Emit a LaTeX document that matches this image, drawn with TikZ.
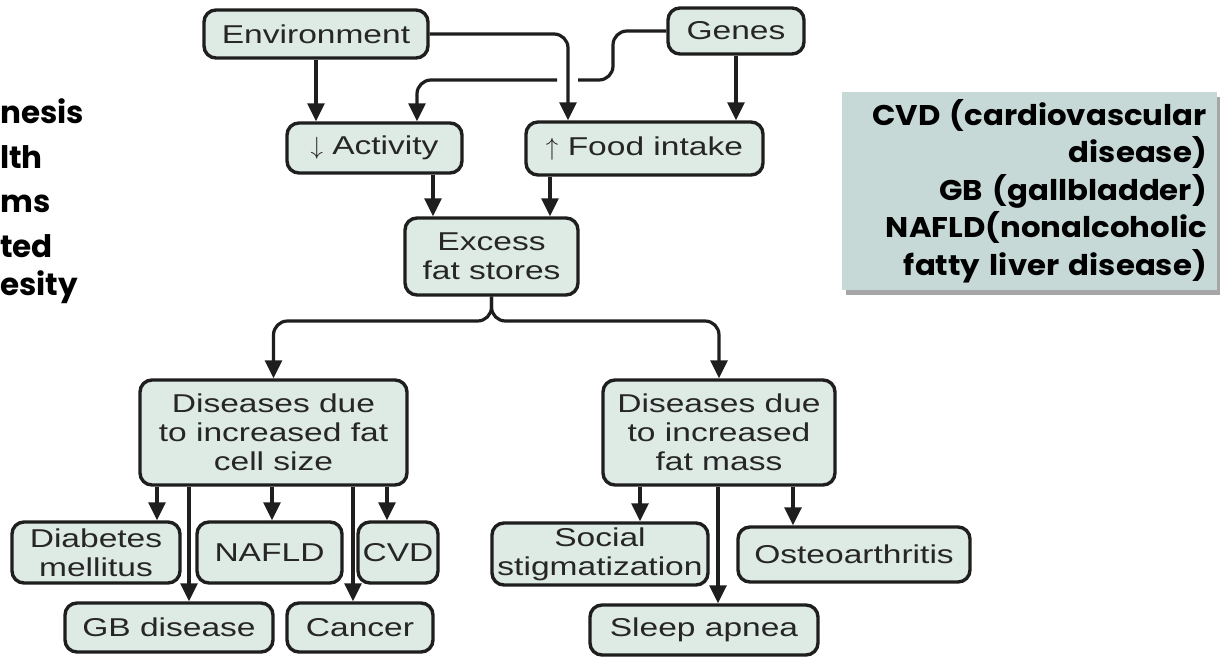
\documentclass[tikz,border=0pt]{standalone}
\usepackage{fontspec}
\setmainfont{Liberation Sans}[FakeStretch=1.3]
\newfontfamily\gothic{Poppins}[FakeStretch=1.08]
\newfontfamily\gothicside{Poppins}
\usetikzlibrary{arrows.meta}
\definecolor{boxfill}{HTML}{DEEAE4}
\definecolor{legfill}{HTML}{C6D9D6}
\definecolor{ink}{HTML}{1E1E1E}
\begin{document}
\begin{tikzpicture}[x=1pt,y=-1pt,
  box/.style={draw=ink, line width=3.4pt, rounded corners=12pt, fill=boxfill,
    text=black!85, align=center, inner sep=0pt,
    font=\fontsize{25.8}{29}\selectfont},
  arr/.style={line width=3.2pt, draw=ink, -{Triangle[width=17pt,length=18pt]}},
  ln/.style={line width=3.2pt, draw=ink},
  side/.style={font=\gothicside\bfseries\fontsize{31}{44}\selectfont, text=black, inner sep=0pt, anchor=base west}]
\useasboundingbox (0,0) rectangle (1226,657);
\fill[white] (0,0) rectangle (1226,657);

% cut-off text on the left
\node[side] (t1) at (0,123) {nesis};
\node[side] (t2) at (0,168) {lth};
\node[side] (t3) at (0,212) {ms};
\node[side] (t4) at (0,257) {ted};
\node[side] (t5) at (0,295) {esity};

% legend
\fill[black!35] (846,97) rectangle (1220,295);
\node[fill=legfill, minimum width=375pt, minimum height=198pt, inner sep=0pt,
      anchor=north east, text width=355pt, align=right, text=black,
      font=\gothic\bfseries\fontsize{28.5}{37.5}\selectfont] (legend) at (1217,92)
  {CVD (cardiovascular\\disease)\\GB (gallbladder)\\NAFLD(nonalcoholic\\fatty liver disease)};

% nodes
\node[box, minimum width=224pt, minimum height=48pt] (env) at (316,34) {Environment};
\node[box, minimum width=136pt, minimum height=46pt] (genes) at (736,31) {Genes};
\node[box, minimum width=175pt, minimum height=50pt] (act) at (374.5,148) {$\downarrow$ Activity};
\node[box, minimum width=237pt, minimum height=53pt] (food) at (644.5,148.5) {$\uparrow$ Food intake};
\node[box, minimum width=173pt, minimum height=77pt] (excess) at (491.5,256.5) {Excess\\fat stores};
\node[box, minimum width=267pt, minimum height=105pt] (dcell) at (273.5,432.5) {Diseases due\\to increased fat\\cell size};
\node[box, minimum width=232pt, minimum height=105pt] (dmass) at (719,432.5) {Diseases due\\to increased\\fat mass};
\node[box, minimum width=168pt, minimum height=61pt] (diab) at (96,552.5) {Diabetes\\mellitus};
\node[box, minimum width=145pt, minimum height=61pt] (nafld) at (269.5,552.5) {NAFLD};
\node[box, minimum width=80pt, minimum height=61pt] (cvd) at (398,552.5) {CVD};
\node[box, minimum width=208pt, minimum height=49pt] (gb) at (169,627.5) {GB disease};
\node[box, minimum width=146pt, minimum height=49pt] (cancer) at (360,627.5) {Cancer};
\node[box, minimum width=216pt, minimum height=62pt] (social) at (600,554) {Social\\stigmatization};
\node[box, minimum width=232pt, minimum height=55pt] (osteo) at (854,554.5) {Osteoarthritis};
\node[box, minimum width=228pt, minimum height=50pt] (sleep) at (704,630) {Sleep apnea};

% top connectors
\draw[arr] (env.south) -- (env.south |- act.north);
\draw[arr, rounded corners=14pt] (env.east) -| (568,0 |- food.north);
\coordinate (gapR) at (578,80);
\coordinate (gapL) at (557,80);
\draw[ln, rounded corners=14pt] (genes.west) -| (613,80) -- (gapR);
\draw[arr, rounded corners=14pt] (gapL) -| (417,0 |- act.north);
\draw[arr] (genes.south) -- (genes.south |- food.north);
\draw[arr] (433,0 |- act.south) -- (433,0 |- excess.north);
\draw[arr] (550,0 |- food.south) -- (550,0 |- excess.north);

% split from excess
\draw[arr, rounded corners=14pt] (excess.south) |- (dcell.north |- 0,321) -- (dcell.north);
\draw[arr, rounded corners=14pt] (excess.south) |- (dmass.north |- 0,321) -- (dmass.north);

% left disease group
\draw[arr] (157,0 |- dcell.south) -- (157,0 |- diab.north);
\draw[arr] (189,0 |- dcell.south) -- (189,0 |- gb.north);
\draw[arr] (272,0 |- dcell.south) -- (272,0 |- nafld.north);
\draw[arr] (353,0 |- dcell.south) -- (353,0 |- cancer.north);
\draw[arr] (387,0 |- dcell.south) -- (387,0 |- cvd.north);

% right disease group
\draw[arr] (640,0 |- dmass.south) -- (640,0 |- social.north);
\draw[arr] (718,0 |- dmass.south) -- (718,0 |- sleep.north);
\draw[arr] (793,0 |- dmass.south) -- (793,0 |- osteo.north);
\end{tikzpicture}
\end{document}
